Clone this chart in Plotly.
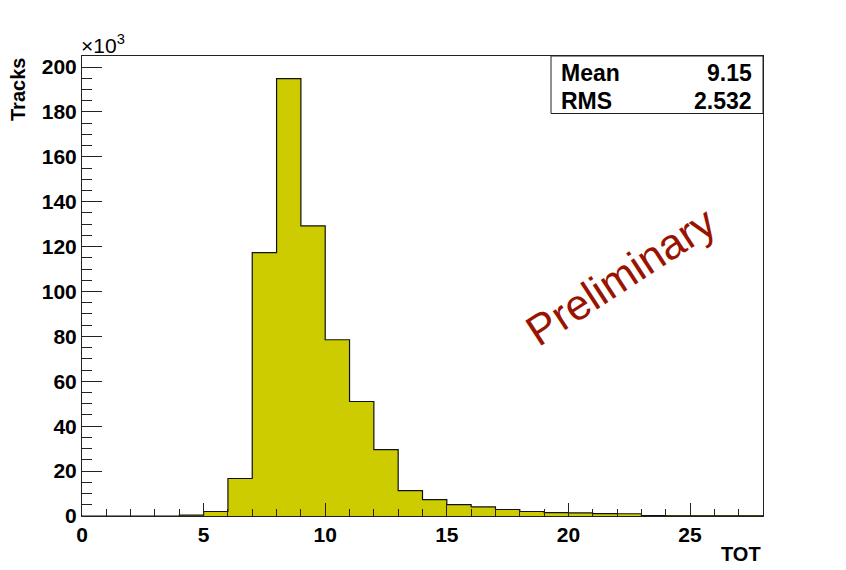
import plotly.graph_objects as go

# Histogram data: TOT bins (lower edges, width 1) and track counts in units of 10^3
bin_edges = list(range(0, 29))
tracks_k = [0, 0, 0, 0, 0.35, 2.0, 16.7, 117.3, 194.8, 129.2, 78.5, 51.0, 29.6, 11.3,
            7.3, 5.1, 4.1, 2.9, 2.0, 1.5, 1.4, 1.1, 1.0, 0.15, 0.1, 0.08, 0.05, 0.03]
stat_labels = ["Mean", "RMS"]
stat_values = ["9.15", "2.532"]
x_title = "TOT"
y_title = "Tracks"

FONT = "Liberation Sans, Arial, Helvetica, sans-serif"
FILL = "#CCCC00"

centers = [e + 0.5 for e in bin_edges[:-1]]

fig = go.Figure()
fig.add_trace(go.Bar(x=centers, y=tracks_k, width=1.0, marker=dict(color=FILL, line=dict(width=0)),
                     showlegend=False, hoverinfo="x+y"))
# step outline
fig.add_trace(go.Scatter(x=bin_edges, y=tracks_k + [tracks_k[-1]], mode="lines",
                         line=dict(color="#111111", width=1.2, shape="hv"),
                         showlegend=False, hoverinfo="skip"))

L, R, T, B = 82, 83, 56, 54
W, H = 846, 570
plot_h = H - T - B
plot_w = W - L - R

def px(xp):
    return (xp - L) / plot_w

def py(yp):
    return (H - B - yp) / plot_h

fig.update_layout(
    width=W, height=H,
    margin=dict(l=L, r=R, t=T, b=B),
    paper_bgcolor="white", plot_bgcolor="white",
    bargap=0,
    font=dict(family=FONT, color="black"),
    xaxis=dict(range=[0, 28], showgrid=False, zeroline=False,
               showline=True, mirror=True, linecolor="#222222", linewidth=1,
               ticks="inside", ticklen=13, tickwidth=1, tickcolor="#222222",
               tick0=0, dtick=5,
               minor=dict(ticks="inside", ticklen=7, dtick=1, tickcolor="#222222", showgrid=False),
               tickfont=dict(size=21, family=FONT, weight="bold")),
    yaxis=dict(range=[0, 204.9], showgrid=False, zeroline=False,
               showline=True, mirror=True, linecolor="#222222", linewidth=1,
               ticks="inside", ticklen=20, tickwidth=1, tickcolor="#222222",
               tick0=0, dtick=20,
               minor=dict(ticks="inside", ticklen=10, dtick=5, tickcolor="#222222", showgrid=False),
               tickfont=dict(size=21, family=FONT, weight="bold")),
)

# stats box
fig.add_shape(type="rect", xref="paper", yref="paper",
              x0=px(551), x1=1, y0=py(113.5), y1=1,
              fillcolor="white", line=dict(color="#222222", width=1), layer="above")

annotations = []
for i, (lab, val) in enumerate(zip(stat_labels, stat_values)):
    yc = 73 + i * 28
    annotations.append(dict(text=lab, xref="paper", yref="paper", x=px(559), y=py(yc),
                            xanchor="left", yanchor="middle", showarrow=False,
                            font=dict(size=23, family=FONT, weight="bold", color="black")))
    annotations.append(dict(text=val, xref="paper", yref="paper", x=px(754), y=py(yc),
                            xanchor="right", yanchor="middle", showarrow=False,
                            font=dict(size=23, family=FONT, weight="bold", color="black")))

annotations += [
    dict(text=x_title, xref="paper", yref="paper", x=1, y=py(554), xanchor="right", yanchor="middle",
         showarrow=False, font=dict(size=20, family=FONT, weight="bold")),
    dict(text=y_title, xref="paper", yref="paper", x=px(18), y=py(90), xanchor="center", yanchor="middle",
         textangle=-90, showarrow=False, font=dict(size=20, family=FONT, weight="bold")),
    dict(text="×10<sup>3</sup>", xref="paper", yref="paper", x=px(79), y=py(44), xanchor="left",
         yanchor="middle", showarrow=False, font=dict(size=21, family=FONT)),
    dict(text="Preliminary", xref="paper", yref="paper", x=px(621), y=py(276), xanchor="center",
         yanchor="middle", textangle=-33, showarrow=False,
         font=dict(size=43, family=FONT, color="#991400")),
]
fig.update_layout(annotations=annotations)

fig.write_html("out.html", config={"displayModeBar": False},
               post_script="document.body.style.margin='0';document.body.style.padding='0';")
